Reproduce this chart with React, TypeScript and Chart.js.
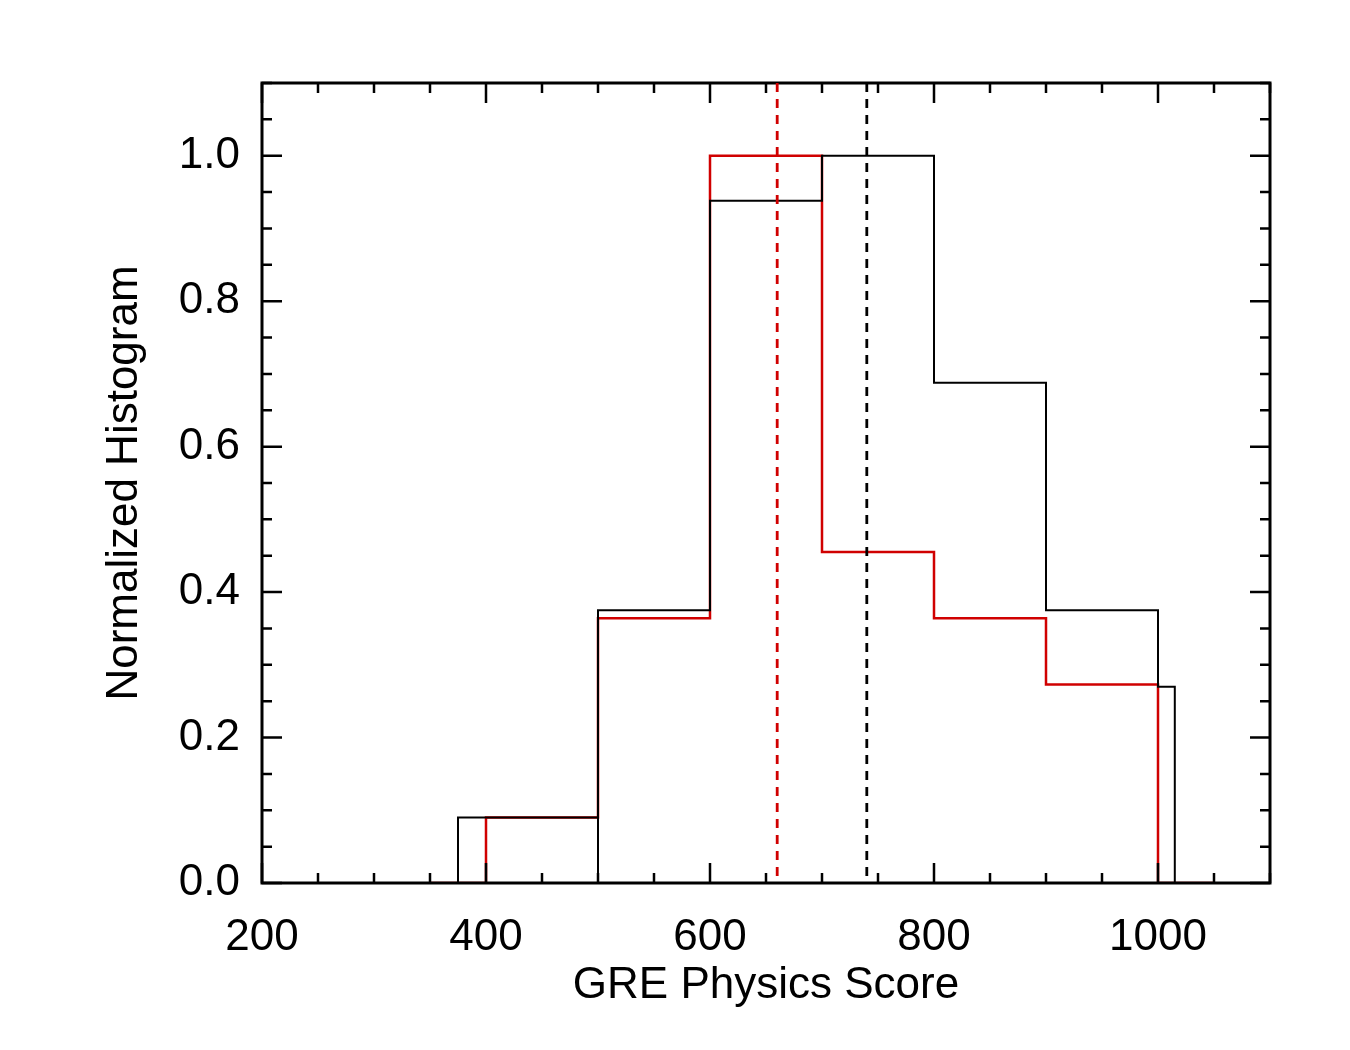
import React, { useEffect, useRef } from "react";
import { Chart, registerables } from "chart.js";
Chart.register(...registerables);

const blackX = [300, 375, 375, 500, 500, 500, 600, 600, 700, 700, 800, 800, 900, 900, 1000, 1000, 1015, 1015, 1040];
const blackY = [0, 0, 0.09, 0.09, 0, 0.375, 0.375, 0.938, 0.938, 1.0, 1.0, 0.688, 0.688, 0.375, 0.375, 0.27, 0.27, 0, 0];
const redX = [350, 400, 400, 500, 500, 600, 600, 700, 700, 800, 800, 900, 900, 1000, 1000, 1050];
const redY = [0, 0, 0.09, 0.09, 0.364, 0.364, 1.0, 1.0, 0.455, 0.455, 0.364, 0.364, 0.273, 0.273, 0, 0];
const xTickValues = [200, 400, 600, 800, 1000];
const yTickValues = [0, 0.2, 0.4, 0.6, 0.8, 1.0];
const redMean = 660;
const blackMean = 740;

const ticksPlugin = {
  id: "inTicks",
  afterDraw(chart: any) {
    const { ctx, chartArea: a, scales } = chart;
    const x = scales.x, y = scales.y;
    ctx.save();
    ctx.strokeStyle = "#000";
    ctx.lineWidth = 3;
    ctx.strokeRect(a.left, a.top, a.right - a.left, a.bottom - a.top);
    ctx.lineWidth = 2.5;
    for (let v = 200; v <= 1100; v += 50) {
      const px = x.getPixelForValue(v);
      const L = v % 200 === 0 ? 20 : 10;
      ctx.beginPath();
      ctx.moveTo(px, a.bottom); ctx.lineTo(px, a.bottom - L);
      ctx.moveTo(px, a.top); ctx.lineTo(px, a.top + L);
      ctx.stroke();
    }
    for (let i = 0; i <= 22; i++) {
      const v = i * 0.05;
      const py = y.getPixelForValue(v);
      const L = i % 4 === 0 ? 20 : 10;
      ctx.beginPath();
      ctx.moveTo(a.left, py); ctx.lineTo(a.left + L, py);
      ctx.moveTo(a.right, py); ctx.lineTo(a.right - L, py);
      ctx.stroke();
    }
    ctx.setLineDash([9, 7]);
    ctx.lineWidth = 2.8;
    [[redMean, "#d00000"], [blackMean, "#000"]].forEach(([v, c]: any) => {
      const px = x.getPixelForValue(v);
      ctx.strokeStyle = c;
      ctx.beginPath(); ctx.moveTo(px, a.top); ctx.lineTo(px, a.bottom); ctx.stroke();
    });
    ctx.restore();
  },
};

export default function App() {
  const ref = useRef<HTMLCanvasElement>(null);
  useEffect(() => {
    const font = { family: "Liberation Sans, Arial, sans-serif", size: 44 };
    const chart = new Chart(ref.current!, {
      type: "line",
      data: {
        datasets: [
          { data: blackX.map((v, i) => ({ x: v, y: blackY[i] })), borderColor: "#000", borderWidth: 2, pointRadius: 0, tension: 0 },
          { data: redX.map((v, i) => ({ x: v, y: redY[i] })), borderColor: "#d00000", borderWidth: 2.5, pointRadius: 0, tension: 0 },
        ],
      },
      options: {
        animation: false, responsive: false, maintainAspectRatio: false,
        layout: { padding: { left: 0, top: 83, right: 80, bottom: 0 } },
        plugins: { legend: { display: false }, tooltip: { enabled: false } },
        scales: {
          x: {
            type: "linear", min: 200, max: 1100,
            grid: { display: false }, border: { display: false },
            afterFit: (s: any) => { s.height = 167; },
            afterBuildTicks: (s: any) => { s.ticks = xTickValues.map((v) => ({ value: v })); },
            ticks: { autoSkip: false, maxRotation: 0, color: "#000", font, padding: 20, callback: (v: any) => String(v) },
            title: { display: true, text: "GRE Physics Score", color: "#000", font, padding: { top: 0, bottom: 38 } },
          },
          y: {
            min: 0, max: 1.1,
            grid: { display: false }, border: { display: false },
            afterFit: (s: any) => { s.width = 262; },
            afterBuildTicks: (s: any) => { s.ticks = yTickValues.map((v) => ({ value: v })); },
            ticks: { autoSkip: false, color: "#000", font, padding: 14, callback: (v: any) => Number(v).toFixed(1) },
            title: { display: true, text: "Normalized Histogram", color: "#000", font, padding: { top: 98, bottom: 0 } },
          },
        },
      },
      plugins: [ticksPlugin],
    } as any);
    return () => chart.destroy();
  }, []);
  return (
    <div style={{ position: "absolute", left: 0, top: 0, background: "#fff" }}>
      <canvas ref={ref} width={1350} height={1050} style={{ display: "block" }} />
    </div>
  );
}
